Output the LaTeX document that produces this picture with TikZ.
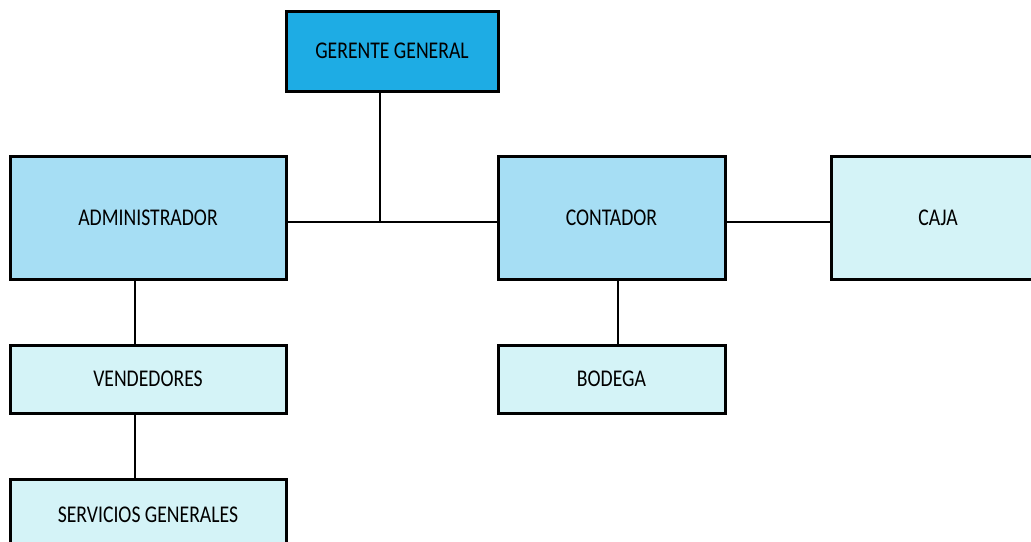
\documentclass[tikz,border=0pt]{standalone}
\usepackage{fontspec}
\setmainfont{Carlito}[FakeStretch=0.82]
\definecolor{azulfuerte}{RGB}{30,172,228}
\definecolor{azulmedio}{RGB}{166,222,244}
\definecolor{azulclaro}{RGB}{212,243,247}
\begin{document}
\begin{tikzpicture}[x = 1pt, y = -1pt,
		caja/.style = {draw = black, line width = 3pt, inner sep = 0pt, font = \fontsize{24}{28}\selectfont},
		linea/.style = {draw = black, line width = 2pt}]
	\useasboundingbox (0,0) rectangle (1031,541);
	\node[caja, fill = azulfuerte, minimum width = 212pt, minimum height = 80pt] (gerente) at (392,51) {GERENTE GENERAL};
	\node[caja, fill = azulmedio, minimum width = 276pt, minimum height = 123pt] (admin) at (148,218) {ADMINISTRADOR};
	\node[caja, fill = azulmedio, minimum width = 227pt, minimum height = 123pt] (contador) at (611.5,218) {CONTADOR};
	\node[caja, fill = azulclaro, minimum width = 214pt, minimum height = 123pt] (cajero) at (938,218) {CAJA}; % sale del borde
	\node[caja, fill = azulclaro, minimum width = 276pt, minimum height = 68pt] (vendedores) at (148,379) {VENDEDORES};
	\node[caja, fill = azulclaro, minimum width = 227pt, minimum height = 68pt] (bodega) at (611.5,379) {BODEGA};
	\node[caja, fill = azulclaro, minimum width = 276pt, minimum height = 72pt] (servicios) at (148,515) {SERVICIOS GENERALES}; % cortada abajo
	\coordinate (junta) at (380,222);
	\draw[linea] (gerente.south -| junta) -- (junta);
	\draw[linea] (admin.east |- junta) -- (contador.west |- junta);
	\draw[linea] (contador.east |- junta) -- (cajero.west |- junta);
	\draw[linea] (admin.south -| 135,0) -- (vendedores.north -| 135,0);
	\draw[linea] (vendedores.south -| 135,0) -- (servicios.north -| 135,0);
	\draw[linea] (contador.south -| 618,0) -- (bodega.north -| 618,0);
\end{tikzpicture}
\end{document}
